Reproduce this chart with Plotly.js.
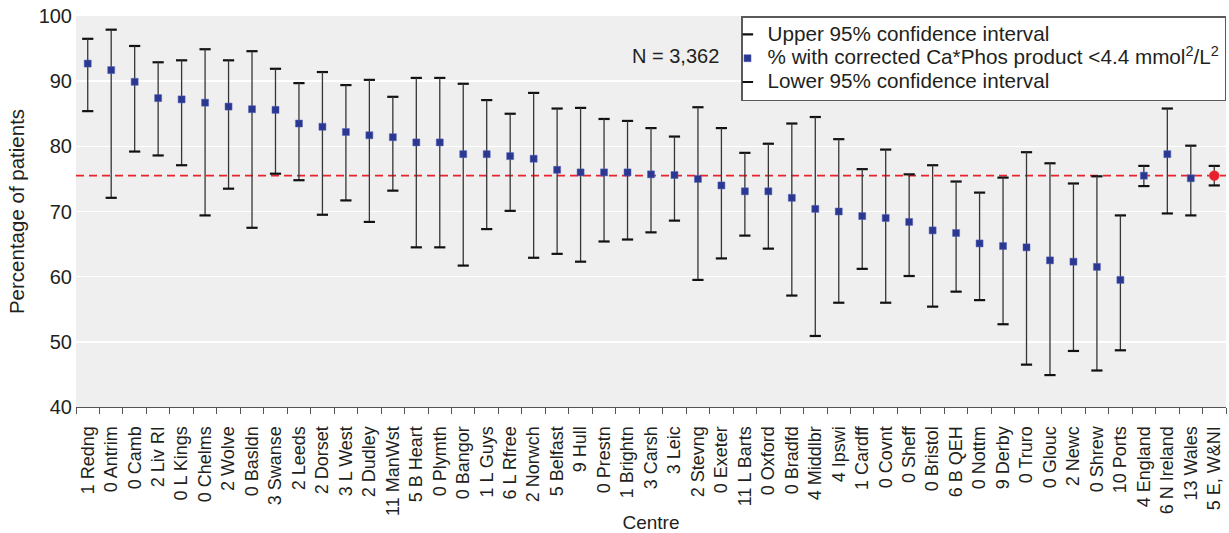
<!DOCTYPE html>
<html>
<head>
<meta charset="utf-8">
<script src="https://cdn.plot.ly/plotly-3.0.1.min.js"></script>
<style>
  html, body { margin: 0; padding: 0; background: #ffffff; }
  #chart { width: 1229px; height: 533px; }
</style>
</head>
<body>
<div id="chart"></div>
<script>
// Renal centres (with count label) and national groupings
const centres = ["1 Redng","0 Antrim","0 Camb","2 Liv RI","0 L Kings","0 Chelms","2 Wolve","0 Basldn","3 Swanse","2 Leeds","2 Dorset","3 L West","2 Dudley","11 ManWst","5 B Heart","0 Plymth","0 Bangor","1 L Guys","6 L Rfree","2 Norwch","5 Belfast","9 Hull","0 Prestn","1 Brightn","3 Carsh","3 Leic","2 Stevng","0 Exeter","11 L Barts","0 Oxford","0 Bradfd","4 Middlbr","4 Ipswi","1 Cardff","0 Covnt","0 Sheff","0 Bristol","6 B QEH","0 Nottm","9 Derby","0 Truro","0 Glouc","2 Newc","0 Shrew","10 Ports","4 England","6 N Ireland","13 Wales","5 E, W&NI"];

// % of patients with corrected Ca*Phos product < 4.4 mmol2/L2
const pct = [92.7,91.7,89.9,87.4,87.2,86.7,86.1,85.7,85.6,83.5,83.0,82.2,81.7,81.4,80.6,80.6,78.8,78.8,78.5,78.1,76.4,76.0,76.0,76.0,75.7,75.6,75.0,74.0,73.1,73.1,72.1,70.4,70.0,69.3,69.0,68.4,67.1,66.7,65.1,64.7,64.5,62.5,62.3,61.5,59.5,75.5,78.8,75.1,75.5];

// Upper and lower 95% confidence limits
const upper = [96.5,97.9,95.4,92.9,93.2,94.9,93.2,94.6,91.9,89.7,91.4,89.4,90.2,87.6,90.5,90.5,89.6,87.1,85.0,88.2,85.8,85.9,84.2,83.9,82.8,81.5,86.0,82.8,79.0,80.4,83.5,84.5,81.1,76.5,79.5,75.7,77.1,74.6,72.9,75.2,79.1,77.4,74.3,75.4,69.4,77.0,85.8,80.1,77.0];
const lower = [85.4,72.1,79.2,78.6,77.1,69.4,73.5,67.5,75.8,74.8,69.5,71.7,68.4,73.2,64.5,64.5,61.7,67.3,70.1,62.9,63.5,62.3,65.4,65.7,66.8,68.6,59.5,62.8,66.3,64.3,57.1,50.9,56.0,61.2,56.0,60.1,55.4,57.7,56.4,52.7,46.5,44.9,48.6,45.6,48.7,73.9,69.7,69.4,74.0];

const yTicks = [40, 50, 60, 70, 80, 90, 100];
const sampleNote = "N = 3,362";

// Overall (E, W&NI) value used for the reference line and highlighted point
const overallIndex = centres.length - 1;
const overall = pct[overallIndex];

const FONT = "Arial, 'Liberation Sans', Helvetica, sans-serif";
const TEXT = "#231f20";

// Legend labels are set a little larger than the legend's row spacing font
const legendLabel = s => '<span style="font-size:20.7px">' + s + '</span>';

const isOverall = centres.map((_, i) => i === overallIndex);
const markerColors = isOverall.map(o => o ? "#e8202b" : "#2b3892");
const markerLines = isOverall.map(o => o ? "#f0505a" : "#5561b8");
const markerSymbols = isOverall.map(o => o ? "circle" : "square");
const markerSizes = isOverall.map(o => o ? 10 : 7);

const capStyle = { symbol: "line-ew", size: 8, color: "#111111", line: { color: "#111111", width: 2.2 } };

const traces = [
  {
    type: "scatter", mode: "markers",
    name: legendLabel("Upper 95% confidence interval"),
    x: centres, y: upper,
    marker: capStyle,
    hoverinfo: "x+y"
  },
  {
    type: "scatter", mode: "markers",
    name: legendLabel("% with corrected Ca*Phos product <4.4 mmol<sup>2</sup>/L<sup>2</sup>"),
    x: centres, y: pct,
    error_y: {
      type: "data", symmetric: false,
      array: upper.map((u, i) => u - pct[i]),
      arrayminus: lower.map((l, i) => pct[i] - l),
      color: "#363636", thickness: 1.3, width: 0
    },
    marker: {
      color: markerColors, symbol: markerSymbols, size: markerSizes, opacity: 1,
      line: { color: markerLines, width: 0.5 }
    },
    hoverinfo: "x+y"
  },
  {
    type: "scatter", mode: "markers",
    name: legendLabel("Lower 95% confidence interval"),
    x: centres, y: lower,
    marker: capStyle,
    hoverinfo: "x+y"
  }
];

const layout = {
  width: 1229, height: 533,
  margin: { l: 76, r: 3, t: 16, b: 126, pad: 0 },
  paper_bgcolor: "#ffffff",
  plot_bgcolor: "#eeefee",
  font: { family: FONT, color: TEXT, size: 20 },
  showlegend: true,
  legend: {
    x: 1, xanchor: "right", y: 1, yanchor: "top",
    bgcolor: "#ffffff", bordercolor: "#5a5a5a", borderwidth: 1.5,
    font: { family: FONT, size: 16, color: TEXT },
    itemwidth: 30, tracegroupgap: 0, traceorder: "normal",
    indentation: -15
  },
  xaxis: {
    type: "category",
    automargin: false,
    tickangle: -90,
    tickfont: { family: FONT, size: 18, color: TEXT },
    ticks: "outside", tickson: "boundaries", ticklen: 6, tickwidth: 1, tickcolor: "#555555",
    ticklabelstandoff: 11,
    showline: true, linecolor: "#555555", linewidth: 1,
    showgrid: false, zeroline: false,
    range: [-0.5, centres.length - 0.5],
    title: { text: "Centre", font: { family: FONT, size: 19, color: TEXT }, standoff: 0 }
  },
  yaxis: {
    automargin: false,
    range: [40, 100],
    tickvals: yTicks, ticktext: yTicks.map(String),
    tickfont: { family: FONT, size: 20, color: TEXT },
    ticks: "", ticklabelstandoff: 3,
    showline: false, zeroline: false,
    showgrid: true, gridcolor: "#ffffff", gridwidth: 1.5,
    title: { text: "Percentage of patients", font: { family: FONT, size: 20.5, color: TEXT }, standoff: 8 }
  },
  shapes: [
    {
      type: "line", xref: "paper", x0: 0, x1: 1, yref: "y", y0: overall, y1: overall,
      line: { color: "#e8232c", width: 1.6, dash: "8px,5px" }, layer: "below"
    }
  ],
  annotations: [
    {
      text: sampleNote, xref: "paper", yref: "paper", x: 0.5217, y: 0.898,
      xanchor: "center", yanchor: "middle", showarrow: false,
      font: { family: FONT, size: 20, color: TEXT }
    }
  ]
};

Plotly.newPlot("chart", traces, layout, { displayModeBar: false, staticPlot: true });
</script>
</body>
</html>
